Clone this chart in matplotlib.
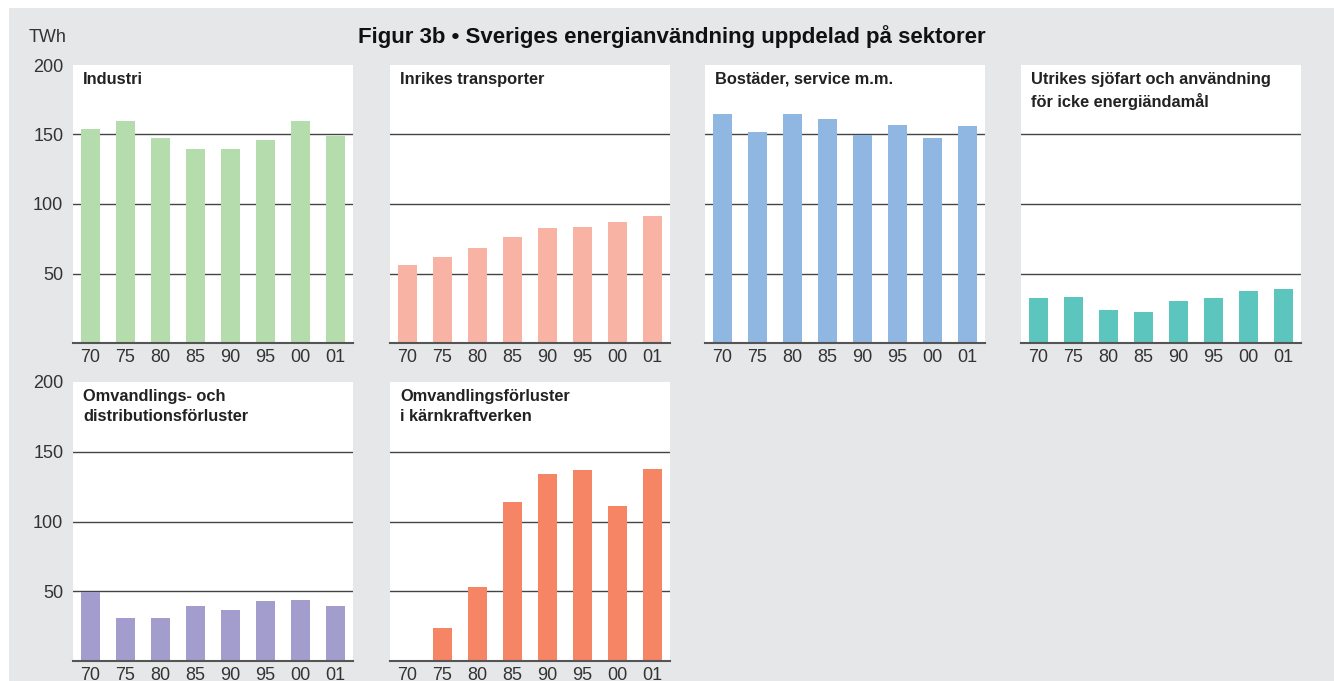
import matplotlib
matplotlib.use("Agg")
import matplotlib.pyplot as plt
from matplotlib.patches import Rectangle

plt.rcParams['font.family'] = ['Liberation Sans', 'DejaVu Sans']

# Data (TWh)
years = ["70", "75", "80", "85", "90", "95", "00", "01"]
industri = [154, 159.6, 147.3, 139.4, 139.4, 146, 159.6, 149]
transporter = [56, 61.6, 68, 76, 83, 83.8, 86.7, 91.7]
bostader = [164.5, 151.7, 164.5, 161, 149.5, 156.7, 147.4, 156]
utrikes = [32.6, 33.4, 24.1, 22.6, 30.5, 32.6, 37.6, 39]
distribution = [49.5, 31, 31, 39.5, 36.5, 43, 44, 39.5]
karnkraft = [0, 24, 53, 114, 134, 136.8, 111, 137.6]

titles = ["Industri", "Inrikes transporter", "Bostäder, service m.m.",
          "Utrikes sjöfart och användning\nför icke energiändamål",
          "Omvandlings- och\ndistributionsförluster",
          "Omvandlingsförluster\ni kärnkraftverken"]
series = [industri, transporter, bostader, utrikes, distribution, karnkraft]
colors = ["#b5dcad", "#f8b3a4", "#90b6e2", "#5bc5be", "#a39dcd", "#f68566"]
yticks = [50, 100, 150, 200]

W, H = 1334, 681
fig = plt.figure(figsize=(W / 100, H / 100), dpi=100)
fig.patches.append(Rectangle((9 / W, 0), 1, (H - 8) / H, transform=fig.transFigure,
                             facecolor="#e6e7e9", edgecolor="none", zorder=-10))

# panel positions in pixels: left, top, width, height
lefts = [73, 390, 705, 1021]
rows = [(65, 278), (382, 279)]
positions = [(lefts[0], rows[0]), (lefts[1], rows[0]), (lefts[2], rows[0]), (lefts[3], rows[0]),
             (lefts[0], rows[1]), (lefts[1], rows[1])]

for i, (vals, title, col) in enumerate(zip(series, titles, colors)):
    left, (top, h) = positions[i]
    ax = fig.add_axes([left / W, (H - top - h) / H, 280 / W, h / H])
    ax.set_facecolor("white")
    x = range(len(years))
    ax.bar(x, vals, width=0.57, color=col, zorder=3)
    ax.set_xlim(-0.5, 7.5)
    ax.set_ylim(0, 200)
    for v in [50, 100, 150]:
        ax.axhline(v, color="#444444", lw=1.0, zorder=1)
    ax.axhline(0, color="#555555", lw=1.5, zorder=4, clip_on=False)
    for s in ax.spines.values():
        s.set_visible(False)
    ax.set_xticks(list(x))
    ax.set_xticklabels(years)
    ax.tick_params(axis="x", length=0, labelsize=13, colors="#333333", pad=4)
    if left == lefts[0]:
        ax.set_yticks(yticks)
        ax.set_yticklabels([str(t) for t in yticks])
        ax.tick_params(axis="y", length=0, labelsize=13, colors="#333333", pad=7)
    else:
        ax.set_yticks([])
    ax.text(10 / 280, 1 - 7 / h, title, transform=ax.transAxes, ha="left", va="top",
            fontsize=11.8, fontweight="bold", color="#222222", linespacing=1.4,
            family=['Liberation Sans Narrow', 'Liberation Sans', 'DejaVu Sans'])

fig.text(48 / W, 1 - 37 / H, "TWh", ha="center", va="center", fontsize=13, color="#333333")
fig.text(672 / W, 1 - 37 / H, "Figur 3b • Sveriges energianvändning uppdelad på sektorer",
         ha="center", va="center", fontsize=16, fontweight="bold", color="#111111",
         family=['Liberation Sans Narrow', 'Liberation Sans', 'DejaVu Sans'])

fig.savefig("out.png", dpi=100, facecolor="white")
